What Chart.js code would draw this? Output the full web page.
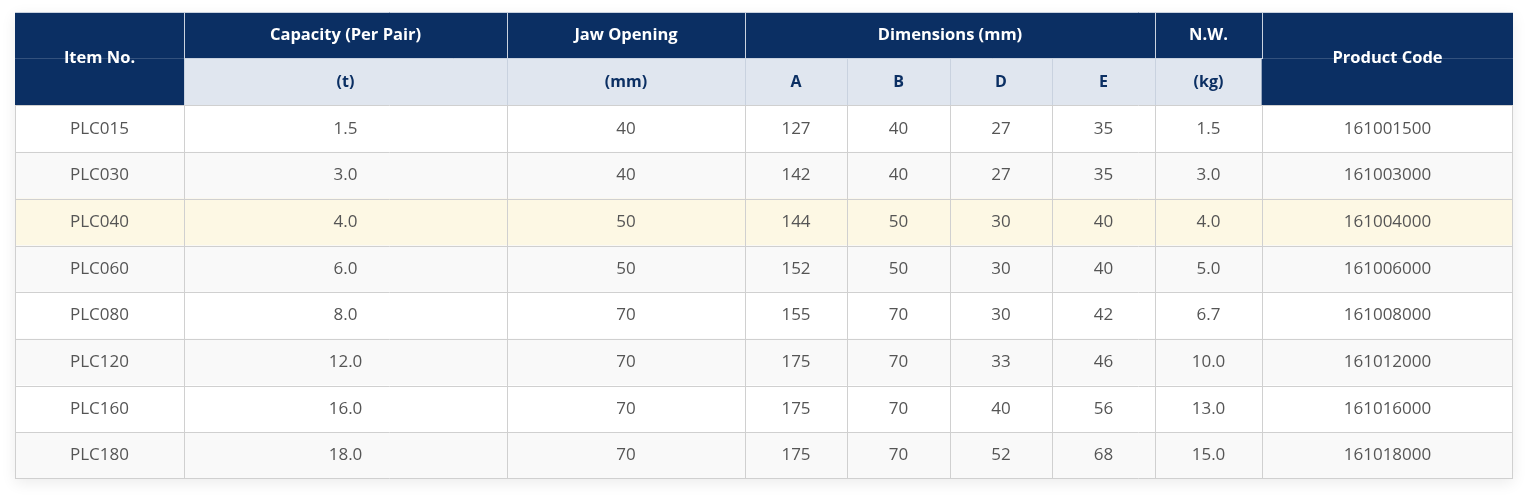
<!DOCTYPE html>
<html>
<head>
<meta charset="utf-8">
<script src="https://cdn.jsdelivr.net/npm/chart.js@4.4.1/dist/chart.umd.min.js"></script>
<style>
  html, body { margin: 0; padding: 0; background: #fff; }
  #wrap { width: 1540px; height: 501px; position: relative; }
</style>
</head>
<body>
<div id="wrap"><canvas id="specTable"></canvas></div>
<script>
// table data
const itemNo = ['PLC015', 'PLC030', 'PLC040', 'PLC060', 'PLC080', 'PLC120', 'PLC160', 'PLC180'];
const capacity = [1.5, 3.0, 4.0, 6.0, 8.0, 12.0, 16.0, 18.0];
const jawOpening = [40, 40, 50, 50, 70, 70, 70, 70];
const dimA = [127, 142, 144, 152, 155, 175, 175, 175];
const dimB = [40, 40, 50, 50, 70, 70, 70, 70];
const dimD = [27, 27, 30, 30, 30, 33, 40, 52];
const dimE = [35, 35, 40, 40, 42, 46, 56, 68];
const netWeight = [1.5, 3.0, 4.0, 5.0, 6.7, 10.0, 13.0, 15.0];
const productCode = ['161001500', '161003000', '161004000', '161006000', '161008000', '161012000', '161016000', '161018000'];

const subHeaders = ['(t)', '(mm)', 'A', 'B', 'D', 'E', '(kg)'];

// layout: column widths in px, row labels for the category axis
const colWidths = [169, 323, 238, 102, 103, 102, 103, 107, 251];
const colEdges = colWidths.reduce((acc, w) => { acc.push(acc[acc.length - 1] + w); return acc; }, [0]);
const TOTAL = colEdges[colEdges.length - 1];
const rowKeys = ['head1', 'head2'].concat(itemNo);

const NAVY = '#0b2f63';
const SUB_BG = '#e0e6ef';
const LINE = '#d0d0d0';
const HEAD_LINE = '#c9d2df';
const HIGHLIGHT_ROW = 2;

const rowColors = rowKeys.map((k, i) => {
    if (i === 0) return NAVY;
    if (i === 1) return SUB_BG;
    const r = i - 2;
    if (r === HIGHLIGHT_ROW) return '#fdf8e4';
    return r % 2 === 0 ? '#ffffff' : '#f9f9f9';
});

const fmt1 = v => v.toFixed(1);
const columns = [
    itemNo,
    capacity.map(fmt1),
    jawOpening.map(String),
    dimA.map(String),
    dimB.map(String),
    dimD.map(String),
    dimE.map(String),
    netWeight.map(fmt1),
    productCode
];

// header cells spanning columns c0..c1 and rows r0..r1
const topHeaders = [
    { text: 'Item No.', c0: 0, c1: 0, r0: 0, r1: 1 },
    { text: 'Capacity (Per Pair)', c0: 1, c1: 1, r0: 0, r1: 0 },
    { text: 'Jaw Opening', c0: 2, c1: 2, r0: 0, r1: 0 },
    { text: 'Dimensions (mm)', c0: 3, c1: 6, r0: 0, r1: 0 },
    { text: 'N.W.', c0: 7, c1: 7, r0: 0, r1: 0 },
    { text: 'Product Code', c0: 8, c1: 8, r0: 0, r1: 1 }
];

const FONT = '"Open Sans", "Noto Sans", sans-serif';

const tablePlugin = {
    id: 'tableCells',
    beforeDraw(chart) {
        const { ctx, chartArea: a } = chart;
        ctx.save();
        ctx.shadowColor = 'rgba(0,0,0,0.08)';
        ctx.shadowBlur = 14;
        ctx.shadowOffsetY = 4;
        ctx.fillStyle = '#fff';
        ctx.fillRect(a.left, a.top, a.right - a.left, a.bottom - a.top);
        ctx.restore();
    },
    afterDatasetsDraw(chart) {
        const { ctx } = chart;
        const x = chart.scales.x, y = chart.scales.y;
        const band = (y.bottom - y.top) / rowKeys.length;
        const rowTop = i => Math.round(y.getPixelForValue(i) - band / 2);
        const colX = c => Math.round(x.getPixelForValue(colEdges[c]));
        const colMid = (c0, c1) => (x.getPixelForValue(colEdges[c0]) + x.getPixelForValue(colEdges[c1 + 1])) / 2;

        ctx.save();
        ctx.lineWidth = 1;

        const hline = (yy, x0, x1, color) => {
            ctx.strokeStyle = color;
            ctx.beginPath();
            ctx.moveTo(x0, yy + 0.5);
            ctx.lineTo(x1, yy + 0.5);
            ctx.stroke();
        };
        const vline = (xx, y0, y1, color) => {
            ctx.strokeStyle = color;
            ctx.beginPath();
            ctx.moveTo(xx + 0.5, y0);
            ctx.lineTo(xx + 0.5, y1);
            ctx.stroke();
        };

        const left = colX(0), right = colX(colEdges.length - 1);
        const bottom = rowTop(rowKeys.length);

        // horizontal lines
        hline(rowTop(0), left, right, HEAD_LINE);
        hline(rowTop(1) - 1, colX(1), colX(8), HEAD_LINE);
        for (let i = 2; i < rowKeys.length; i++) hline(rowTop(i), left, right, LINE);
        hline(bottom - 1, left, right, LINE);

        // vertical lines: header row 1, header row 2, body
        [1, 2, 3, 7, 8].forEach(c => vline(colX(c), rowTop(0), rowTop(1), HEAD_LINE));
        [1, 2, 3, 4, 5, 6, 7].forEach(c => vline(colX(c), rowTop(1), rowTop(2), HEAD_LINE));
        for (let c = 1; c < colEdges.length - 1; c++) vline(colX(c), rowTop(2), bottom, LINE);
        vline(left, rowTop(2), bottom, LINE);
        vline(right - 1, rowTop(2), bottom, LINE);

        ctx.textAlign = 'center';
        ctx.textBaseline = 'middle';

        // top header
        ctx.fillStyle = '#ffffff';
        ctx.font = 'bold 16.5px ' + FONT;
        topHeaders.forEach(h => {
            const cy = (rowTop(h.r0) + rowTop(h.r1 + 1)) / 2;
            ctx.fillText(h.text, colMid(h.c0, h.c1), cy);
        });

        // sub header
        ctx.fillStyle = NAVY;
        ctx.font = 'bold 16px ' + FONT;
        subHeaders.forEach((t, k) => {
            ctx.fillText(t, colMid(k + 1, k + 1), y.getPixelForValue(1));
        });

        // body cells
        ctx.fillStyle = '#555555';
        ctx.font = '17px ' + FONT;
        columns.forEach((col, c) => {
            const cx = colMid(c, c);
            col.forEach((v, r) => ctx.fillText(v, cx, y.getPixelForValue(r + 2)));
        });
        ctx.restore();
    }
};

const spanRow = (c0, c1) => rowKeys.map((k, i) => (i === 1 ? [colEdges[c0], colEdges[c1]] : null));

new Chart(document.getElementById('specTable'), {
    type: 'bar',
    data: {
        labels: rowKeys,
        datasets: [
            {
                label: 'rows',
                data: rowKeys.map(() => [0, TOTAL]),
                backgroundColor: rowColors,
                order: 3
            },
            {
                label: 'itemSpan',
                data: spanRow(0, 1),
                backgroundColor: NAVY,
                order: 2
            },
            {
                label: 'codeSpan',
                data: spanRow(8, 9),
                backgroundColor: NAVY,
                order: 1
            }
        ]
    },
    options: {
        indexAxis: 'y',
        responsive: true,
        maintainAspectRatio: false,
        animation: false,
        datasets: {
            bar: {
                grouped: false,
                barPercentage: 1,
                categoryPercentage: 1,
                borderWidth: 0,
                borderSkipped: false
            }
        },
        layout: { padding: { left: 15, top: 12, right: 27, bottom: 22 } },
        plugins: {
            legend: { display: false },
            tooltip: { enabled: false }
        },
        events: [],
        scales: {
            x: { type: 'linear', min: 0, max: TOTAL, display: false },
            y: { type: 'category', display: false, offset: true }
        }
    },
    plugins: [tablePlugin]
});
</script>
</body>
</html>
